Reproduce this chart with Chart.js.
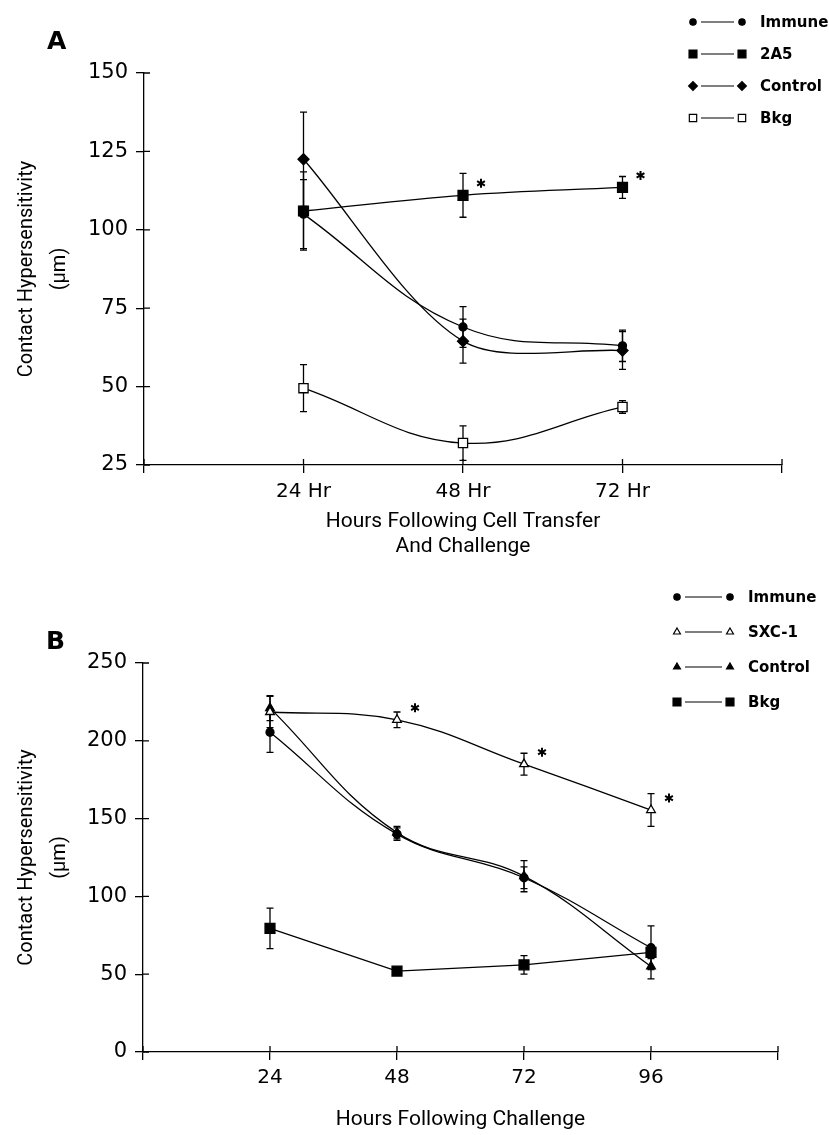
<!DOCTYPE html>
<html>
<head>
<meta charset="utf-8">
<script src="https://cdn.jsdelivr.net/npm/chart.js@4.4.1/dist/chart.umd.min.js"></script>
<style>
html, body { margin: 0; padding: 0; background: #fff; }
#wrap { position: relative; width: 829px; height: 1135px; }
canvas { position: absolute; left: 0; }
#chartA { top: 0; }
#chartB { top: 560px; }
.tag { position: absolute; font: bold 25px 'DejaVu Sans', sans-serif; line-height: 1; color: #000; }
</style>
</head>
<body>
<div id="wrap">
  <canvas id="chartA" width="829" height="560"></canvas>
  <canvas id="chartB" width="829" height="575"></canvas>
  <div class="tag" style="left:47px;top:28px">A</div>
  <div class="tag" style="left:46px;top:628px">B</div>
</div>
<script>
"use strict";

// Panel A - hours after cell transfer
var hoursA = [24, 48, 72];
var immuneA = [105, 69, 63];
var immuneAErr = [11, 6.5, 5];
var mab2A5 = [106, 111, 113.5];
var mab2A5Err = [12.5, 7, 3.5];
var controlA = [122.5, 64.5, 61.5];
var controlAErr = [15, 7, 6];
var bkgA = [49.5, 32, 43.5];
var bkgAErr = [7.5, 5.5, 2];
var starsA = [1, 2];          // 2A5 points marked significant

// Panel B - hours after challenge
var hoursB = [24, 48, 72, 96];
var immuneB = [205.5, 140, 112, 67];
var immuneBErr = [13, 4, 7, 14];
var sxc1 = [218.5, 213.5, 185, 155.5];
var sxc1Err = [10, 5, 7, 10.5];
var controlB = [221, 141, 113, 55];
var controlBErr = [8, 4, 10, 8];
var bkgB = [79.5, 52, 56, 64];
var bkgBErr = [13, 1, 6, 4];
var starsB = [1, 2, 3];       // SXC-1 points marked significant

var ticksA = { min: 25, max: 150, step: 25 };
var ticksB = { min: 0, max: 250, step: 50 };

function pts(xs, ys) {
    return xs.map(function (x, i) { return { x: x, y: ys[i] }; });
}

function series(label, xs, ys, errs, style, r, open, tension, stars) {
    return {
        label: label,
        data: pts(xs, ys),
        errors: errs,
        stars: stars || [],
        borderColor: '#000',
        borderWidth: 1.3,
        tension: tension,
        pointStyle: style,
        pointRadius: r,
        pointBackgroundColor: open ? '#fff' : '#000',
        pointBorderColor: '#000',
        pointBorderWidth: 1.3,
        fill: false
    };
}

// vertical error bars with caps, drawn under the markers
var errorBars = {
    id: 'errorBars',
    beforeDatasetsDraw: function (chart) {
        var ctx = chart.ctx, x = chart.scales.x, y = chart.scales.y;
        ctx.save();
        ctx.strokeStyle = '#000';
        ctx.lineWidth = 1.3;
        chart.data.datasets.forEach(function (ds) {
            if (!ds.errors) return;
            ds.data.forEach(function (p, i) {
                var e = ds.errors[i];
                if (!e) return;
                var px = x.getPixelForValue(p.x);
                var top = y.getPixelForValue(p.y + e);
                var bot = y.getPixelForValue(p.y - e);
                ctx.beginPath();
                ctx.moveTo(px, top); ctx.lineTo(px, bot);
                ctx.moveTo(px - 3.5, top); ctx.lineTo(px + 3.5, top);
                ctx.moveTo(px - 3.5, bot); ctx.lineTo(px + 3.5, bot);
                ctx.stroke();
            });
        });
        ctx.restore();
    }
};

// asterisks next to significant points + small inner tick stubs
var marks = {
    id: 'marks',
    afterDatasetsDraw: function (chart) {
        var ctx = chart.ctx, x = chart.scales.x, y = chart.scales.y;
        ctx.save();
        ctx.strokeStyle = '#000';
        ctx.lineWidth = 2;
        chart.data.datasets.forEach(function (ds) {
            ds.stars.forEach(function (i) {
                var p = ds.data[i];
                var cx = x.getPixelForValue(p.x) + 18, cy = y.getPixelForValue(p.y) - 12;
                ctx.beginPath();
                for (var k = 0; k < 3; k++) {
                    var a = Math.PI / 2 + k * Math.PI / 3;
                    ctx.moveTo(cx - 4.5 * Math.cos(a), cy - 4.5 * Math.sin(a));
                    ctx.lineTo(cx + 4.5 * Math.cos(a), cy + 4.5 * Math.sin(a));
                }
                ctx.stroke();
            });
        });
        ctx.lineWidth = 1.3;
        ctx.beginPath();
        y.ticks.forEach(function (t) {
            var py = y.getPixelForValue(t.value);
            ctx.moveTo(y.right, py); ctx.lineTo(y.right + 6, py);
        });
        x.ticks.forEach(function (t) {
            var px = x.getPixelForValue(t.value);
            ctx.moveTo(px, x.top); ctx.lineTo(px, x.top - 6);
        });
        ctx.stroke();
        ctx.restore();
    }
};

// legend in the "marker --- marker  label" form of the figure
var pairLegend = {
    id: 'pairLegend',
    afterDraw: function (chart, args, opts) {
        var ctx = chart.ctx;
        ctx.save();
        ctx.strokeStyle = '#000';
        ctx.lineWidth = 1.2;
        ctx.font = 'bold 15px "DejaVu Sans", sans-serif';
        ctx.textBaseline = 'middle';
        chart.data.datasets.forEach(function (ds, i) {
            var yy = opts.y0 + i * opts.dy;
            var r = ds.pointRadius * 0.8;
            [opts.x0, opts.x1].forEach(function (xx) {
                ctx.fillStyle = ds.pointBackgroundColor;
                Chart.helpers.drawPoint(ctx, { pointStyle: ds.pointStyle, radius: r, rotation: 0, borderWidth: 1.2 }, xx, yy);
            });
            ctx.beginPath();
            ctx.moveTo(opts.x0 + 8, yy);
            ctx.lineTo(opts.x1 - 8, yy);
            ctx.stroke();
            ctx.fillStyle = '#000';
            ctx.fillText(ds.label, opts.textX, yy + 1);
        });
        ctx.restore();
    }
};

function makeOptions(cfg) {
    return {
        responsive: false,
        animation: false,
        layout: { padding: cfg.padding },
        plugins: {
            legend: { display: false },
            tooltip: { enabled: false },
            pairLegend: cfg.legend
        },
        scales: {
            x: {
                type: 'linear',
                min: 0,
                max: cfg.xMax,
                afterFit: function (s) { s.height = cfg.xHeight; },
                afterBuildTicks: function (s) {
                    s.ticks = [];
                    for (var v = 0; v <= cfg.xMax; v += 24) s.ticks.push({ value: v });
                },
                ticks: {
                    color: '#000',
                    padding: cfg.xPad,
                    maxRotation: 0,
                    font: { family: 'DejaVu Sans', size: 20 },
                    callback: function (v) { return (v === 0 || v === cfg.xMax) ? '' : v + cfg.xSuffix; }
                },
                grid: { drawOnChartArea: false, drawTicks: true, tickLength: 8, color: '#000', lineWidth: 1.3 },
                border: { color: '#000', width: 1.3 },
                title: {
                    display: true,
                    text: cfg.xTitle,
                    color: '#000',
                    font: { family: 'Roboto', size: 21, lineHeight: 25 / 21 },
                    padding: { top: 0, bottom: cfg.xTitlePad }
                }
            },
            y: {
                min: cfg.yTicks.min,
                max: cfg.yTicks.max,
                afterFit: function (s) { s.width = cfg.yWidth; },
                ticks: {
                    stepSize: cfg.yTicks.step,
                    color: '#000',
                    padding: 8,
                    font: { family: 'DejaVu Sans', size: 21 }
                },
                grid: { drawOnChartArea: false, drawTicks: true, tickLength: 8, color: '#000', lineWidth: 1.3 },
                border: { color: '#000', width: 1.3 },
                title: {
                    display: true,
                    text: ['Contact Hypersensitivity', '(\u03bcm)'],
                    color: '#000',
                    font: { family: 'Roboto', size: 20, lineHeight: 1.65 },
                    padding: { top: 10, bottom: 0 }
                }
            }
        }
    };
}

new Chart(document.getElementById('chartA'), {
    type: 'line',
    data: {
        datasets: [
            series('Immune', hoursA, immuneA, immuneAErr, 'circle', 4, false, 0.4),
            series('2A5', hoursA, mab2A5, mab2A5Err, 'rect', 7, false, 0.4, starsA),
            series('Control', hoursA, controlA, controlAErr, 'rectRot', 5.5, false, 0.3),
            series('Bkg', hoursA, bkgA, bkgAErr, 'rect', 6.5, true, 0.4)
        ]
    },
    options: makeOptions({
        padding: { left: 0, right: 47, top: 73, bottom: 0 },
        xMax: 96, xHeight: 95, xPad: 7, xSuffix: ' Hr',
        xTitle: ['Hours Following Cell Transfer', 'And Challenge'], xTitlePad: 1,
        yTicks: ticksA, yWidth: 144,
        legend: { x0: 693, x1: 742, textX: 760, y0: 22, dy: 32 }
    }),
    plugins: [errorBars, marks, pairLegend]
});

new Chart(document.getElementById('chartB'), {
    type: 'line',
    data: {
        datasets: [
            series('Immune', hoursB, immuneB, immuneBErr, 'circle', 4, false, 0.4),
            series('SXC-1', hoursB, sxc1, sxc1Err, 'triangle', 5, true, 0.4, starsB),
            series('Control', hoursB, controlB, controlBErr, 'triangle', 5, false, 0.4),
            series('Bkg', hoursB, bkgB, bkgBErr, 'rect', 7, false, 0)
        ]
    },
    options: makeOptions({
        padding: { left: 0, right: 51, top: 103, bottom: 0 },
        xMax: 120, xHeight: 83, xPad: 6, xSuffix: '',
        xTitle: 'Hours Following Challenge', xTitlePad: 3,
        yTicks: ticksB, yWidth: 143,
        legend: { x0: 677, x1: 730, textX: 748, y0: 37, dy: 35 }
    }),
    plugins: [errorBars, marks, pairLegend]
});
</script>
</body>
</html>
